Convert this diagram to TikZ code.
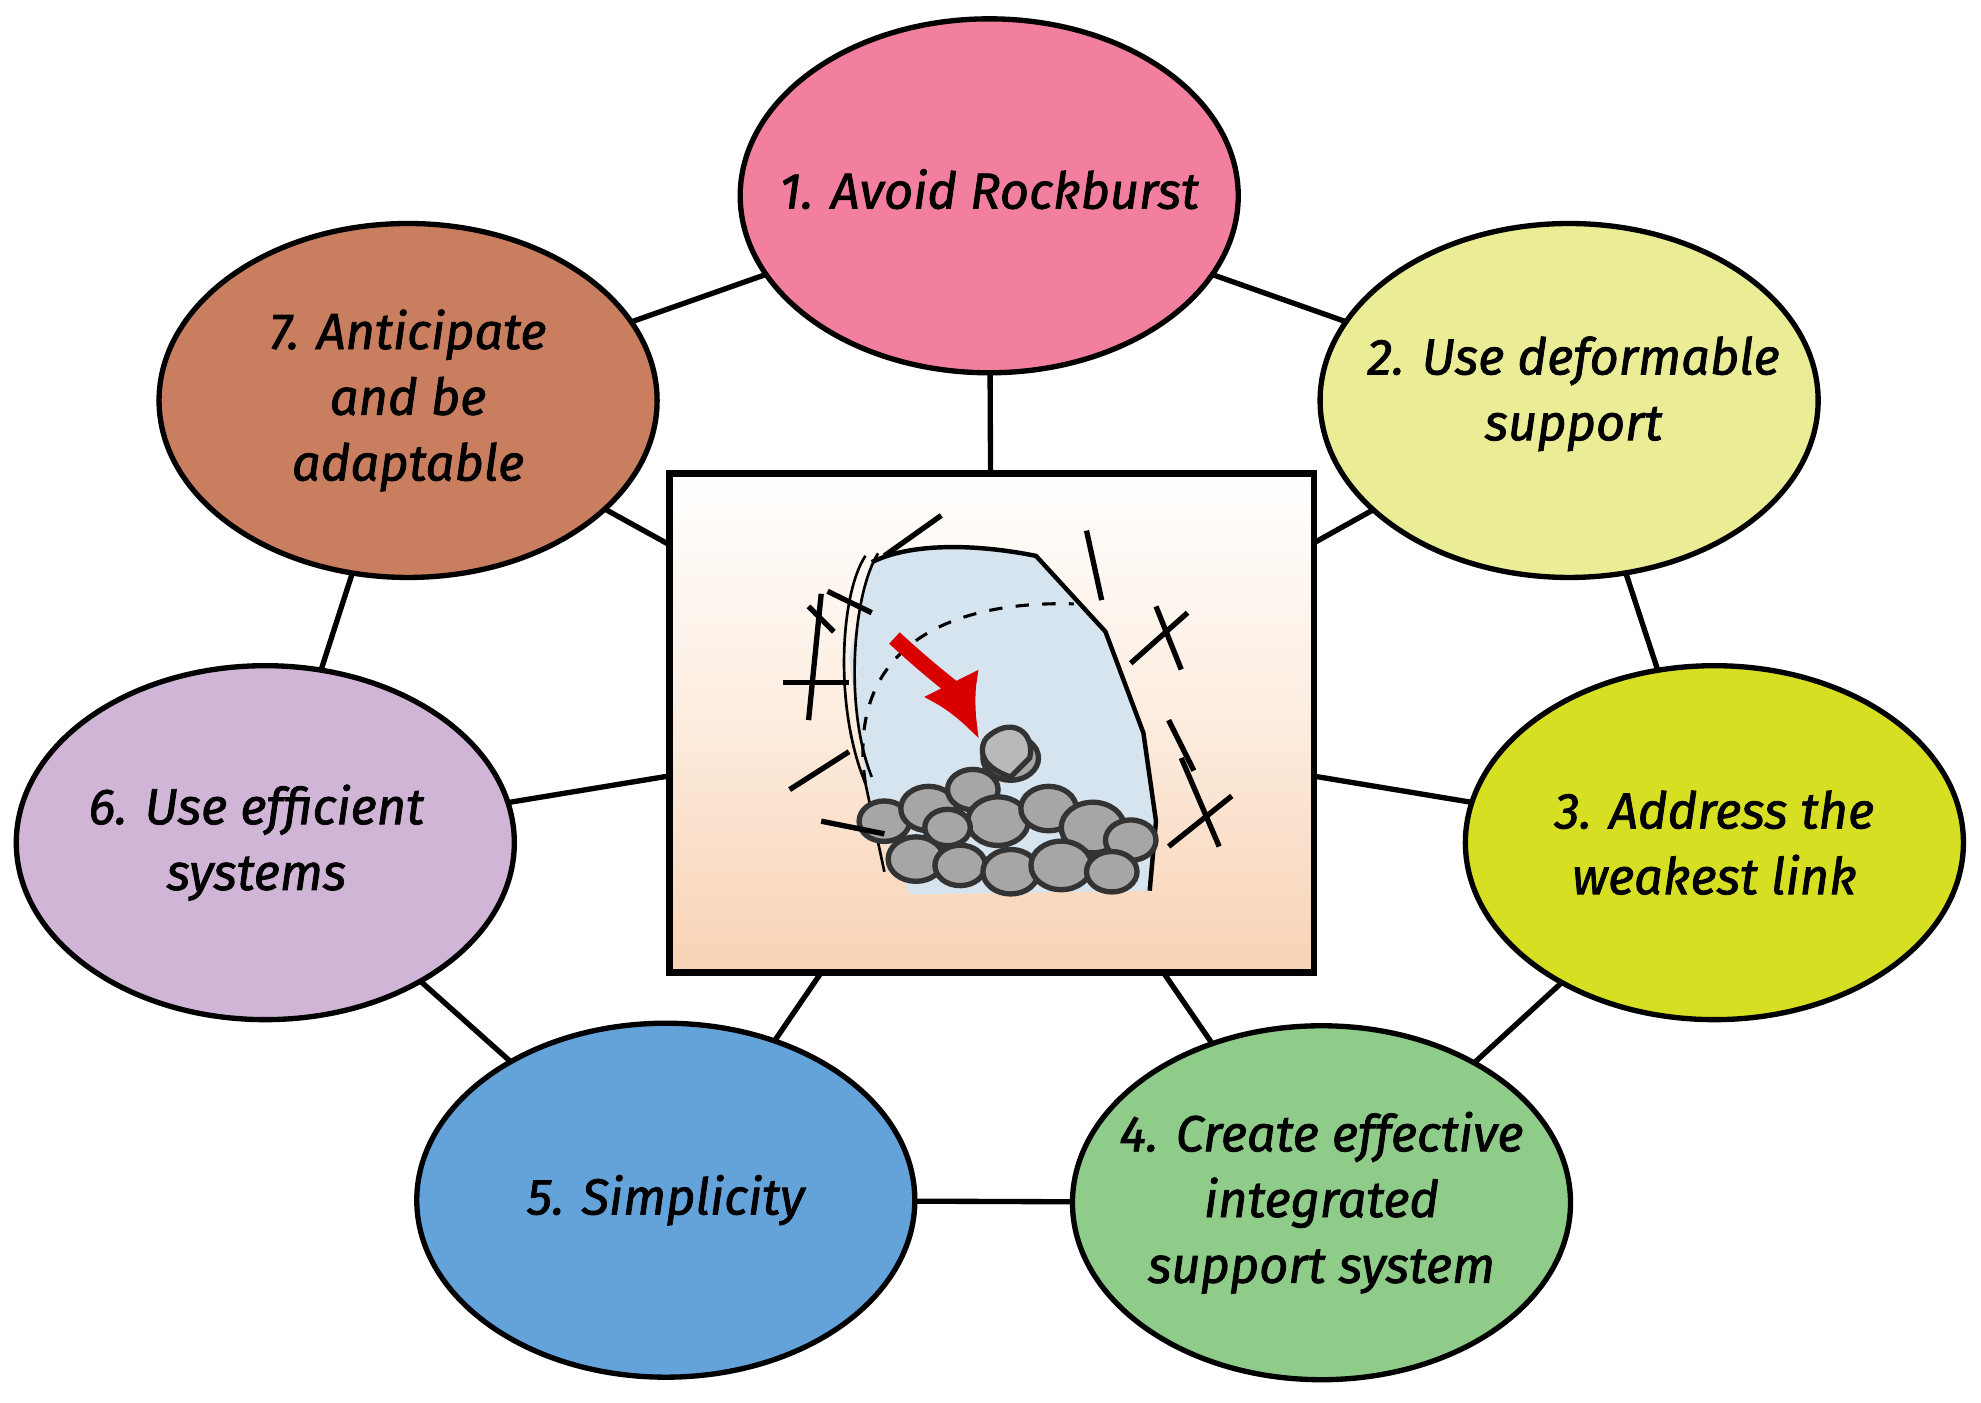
\documentclass[tikz,border=0pt]{standalone}
\usepackage{fontspec}
\setmainfont{Fira Sans}[ItalicFeatures={FakeBold=1.5}]
\usetikzlibrary{shapes.geometric,arrows.meta}
\definecolor{c1}{RGB}{242,127,157}
\definecolor{c2}{RGB}{234,236,150}
\definecolor{c3}{RGB}{215,223,35}
\definecolor{c4}{RGB}{143,203,137}
\definecolor{c5}{RGB}{99,163,218}
\definecolor{c6}{RGB}{209,181,214}
\definecolor{c7}{RGB}{201,127,95}
\definecolor{peach}{RGB}{248,210,180}
\definecolor{peachl}{RGB}{252,236,222}
\definecolor{cav}{RGB}{214,228,240}
\begin{document}
\begin{tikzpicture}[x=0.01cm,y=-0.01cm,
  el/.style={ellipse,draw=black,line width=1.2pt,inner sep=0pt,minimum width=3.94cm,minimum height=2.8cm},
  tx/.style={align=center,inner sep=0pt,font=\fontsize{11.4}{14.8}\selectfont\itshape},
  ln/.style={line width=1.2pt}]
\useasboundingbox (0,0) rectangle (1568,1110);
\coordinate (c) at (785,572);
\path (783,155) coordinate (p1) (1242,317) coordinate (p2) (1357,667) coordinate (p3) (1046,952) coordinate (p4) (527,950) coordinate (p5) (210,667) coordinate (p6) (323,317) coordinate (p7);
\draw[ln] (p1)--(p2)--(p3)--(p4)--(p5)--(p6)--(p7)--cycle;
\foreach \i in {1,...,7} \draw[ln] (c)--(p\i);
\node[el,fill=c1] (n1) at (p1) {};
\node[el,fill=c2] (n2) at (p2) {};
\node[el,fill=c3] (n3) at (p3) {};
\node[el,fill=c4] (n4) at (p4) {};
\node[el,fill=c5] (n5) at (p5) {};
\node[el,fill=c6] (n6) at (p6) {};
\node[el,fill=c7] (n7) at (p7) {};
\node[tx] (t1) at ([yshift=1.5pt]n1) {1. Avoid Rockburst};
\node[tx] (t2) at ([xshift=1pt,yshift=1.5pt]n2) {2. Use deformable\\support};
\node[tx] (t3) at (n3) {3. Address the\\weakest link};
\node[tx] (t4) at (n4) {4. Create effective\\integrated\\support system};
\node[tx] (t5) at (n5) {5. Simplicity};
\node[tx] (t6) at ([xshift=-2pt]n6) {6. Use efficient\\systems};
\node[tx] (t7) at (n7) {7. Anticipate\\and be\\adaptable};
% picture box
\shade[top color=white,bottom color=peach,middle color=peachl] (530,375) rectangle (1040,770);
\draw[line width=1.5pt] (530,375) rectangle (1040,770);
% rock cavity
\fill[cav] (690,445) .. controls (720,430) and (770,430) .. (820,440) -- (875,500) -- (905,580) -- (915,650) -- (910,705) -- (720,708) -- (685,620) -- (672,520) -- cycle;
\draw[line width=1pt] (690,445) .. controls (720,430) and (770,430) .. (820,440) -- (875,500) -- (905,580) -- (915,650) -- (910,705);
\draw[line width=0.6pt] (685,440) .. controls (665,470) and (660,560) .. (685,620) -- (700,690);
\draw[line width=0.6pt] (695,438) .. controls (675,470) and (668,560) .. (690,615);
\draw[dashed,line width=0.7pt] (685,620) .. controls (670,520) and (740,475) .. (850,478);
% rocks
\foreach \x/\y/\r in {700/650/20,735/640/22,770/625/20,800/600/22,790/650/24,830/640/22,865/655/25,895/665/20,725/680/22,760/685/20,800/690/22,840/685/24,880/690/20,750/655/18} {
  \fill[gray!70,draw=gray!40!black,line width=1.2pt] (\x,\y) ellipse[x radius=\r,y radius=\r*0.8];
}
\fill[gray!55,draw=gray!40!black,line width=1.2pt] (780,585) .. controls (800,565) and (820,580) .. (815,600) -- (800,615) .. controls (785,610) and (772,600) .. (780,585);
% joints
\foreach \a/\b in {{700,440}/{745,408},{655,468}/{690,485},{640,480}/{660,500},{620,540}/{672,540},{625,625}/{672,595},{650,650}/{700,660},{860,420}/{872,475},{895,525}/{940,485},{915,480}/{935,530},{925,570}/{945,610},{935,600}/{965,670},{925,670}/{975,630},{650,470}/{640,570}} {
  \draw[line width=1.2pt] (\a) -- (\b);
}
% red arrow
\draw[red!85!black,line width=3.5pt,-{Latex[length=14pt,width=14pt]}] (708,505) .. controls (735,530) and (755,545) .. (775,585);
\end{tikzpicture}
\end{document}
